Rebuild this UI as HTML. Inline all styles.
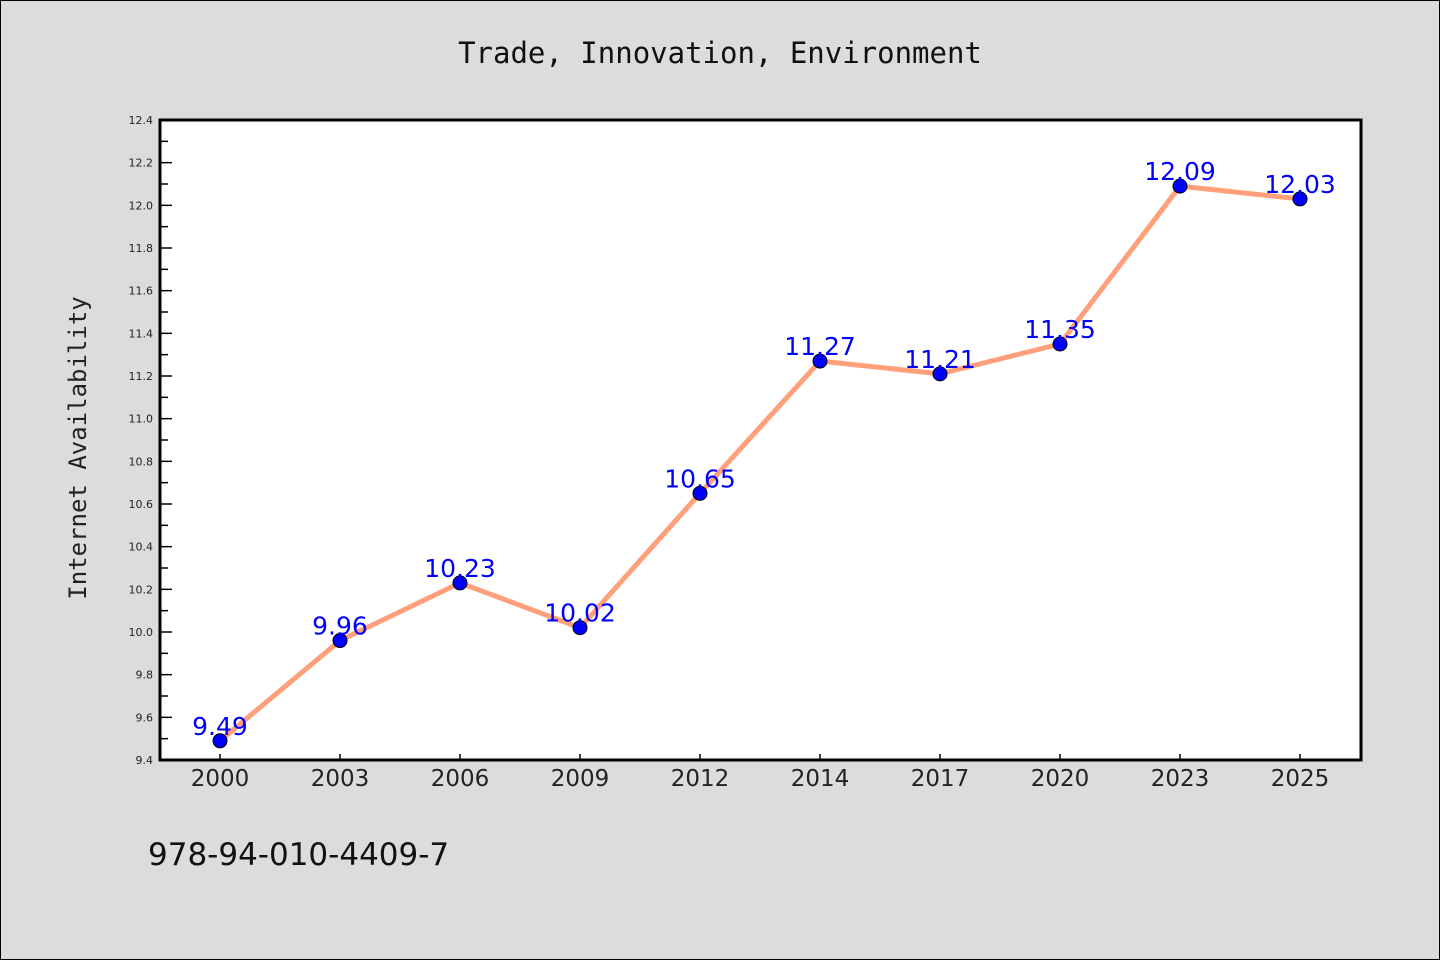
<!DOCTYPE html>
<html><head><meta charset="utf-8"><style>
html,body{margin:0;padding:0;background:#dcdcdc;}
svg{display:block;font-family:"DejaVu Sans","Liberation Sans",sans-serif;}
</style></head><body>
<svg width="1440" height="960" viewBox="0 0 1440 960">
<rect x="0.5" y="0.5" width="1439" height="959" fill="#dcdcdc" stroke="#000" stroke-width="1"/>
<text x="720" y="63" text-anchor="middle" font-size="29" font-family="DejaVu Sans Mono, monospace" fill="#111">Trade, Innovation, Environment</text>
<rect x="160" y="120" width="1201" height="640" fill="#fff"/>
<g id="yticks"></g><g id="xticks"></g>
<path id="line" fill="none" stroke="#ffa07a" stroke-width="5" stroke-linejoin="round"/>
<g id="points"></g>
<rect x="160" y="120" width="1201" height="640" fill="none" stroke="#000" stroke-width="3"/>
<text x="86" y="448" transform="rotate(-90 86 448)" text-anchor="middle" font-size="24" font-family="DejaVu Sans Mono, monospace" fill="#222">Internet Availability</text>
<text x="148" y="865" font-size="31" fill="#111">978-94-010-4409-7</text>
</svg>
<script>
const categories=["2000","2003","2006","2009","2012","2014","2017","2020","2023","2025"];
const values=[9.49,9.96,10.23,10.02,10.65,11.27,11.21,11.35,12.09,12.03];
const valueLabels=["9.49","9.96","10.23","10.02","10.65","11.27","11.21","11.35","12.09","12.03"];
const yTicks=["9.4","9.6","9.8","10.0","10.2","10.4","10.6","10.8","11.0","11.2","11.4","11.6","11.8","12.0","12.2","12.4"];
const NS="http://www.w3.org/2000/svg";
const yMin=9.4,yMax=12.4,yTop=120,yBot=760;
const y=v=>yBot-(v-yMin)/(yMax-yMin)*(yBot-yTop);
const x=i=>220+i*(1300-220)/(categories.length-1);
function mk(t,a){const e=document.createElementNS(NS,t);for(const k in a)e.setAttribute(k,a[k]);return e;}
const yt=document.getElementById('yticks');
yTicks.forEach((t,i)=>{const v=parseFloat(t),yy=y(v);
 const l=mk('line',{x1:160,x2:172,y1:yy,y2:yy,stroke:'#000','stroke-width':1.5});
 
 yt.appendChild(l);
 if(i<yTicks.length-1){const ym=y(v+0.1);const m=mk('line',{x1:160,x2:168,y1:ym,y2:ym,stroke:'#000','stroke-width':1.5});
 
 yt.appendChild(m);}
 const tx=mk('text',{x:153,y:yy+4,'text-anchor':'end','font-size':11,fill:'#222'});tx.textContent=t;
 
 yt.appendChild(tx);});
const xt=document.getElementById('xticks');
categories.forEach((c,i)=>{const l=mk('line',{x1:x(i),x2:x(i),y1:760,y2:754,stroke:'#000','stroke-width':1.5});
 
 xt.appendChild(l);
 const tx=mk('text',{x:x(i),y:786,'text-anchor':'middle','font-size':23,fill:'#222'});tx.textContent=c;
 
 xt.appendChild(tx);});
document.getElementById('line').setAttribute('d',values.map((v,i)=>(i?'L':'M')+x(i)+','+y(v)).join(''));
const pg=document.getElementById('points');
values.forEach((v,i)=>{const c=mk('circle',{cx:x(i),cy:y(v),r:7,fill:'#0000ff',stroke:'#000','stroke-width':1});
 
 pg.appendChild(c);
 const t=mk('text',{x:x(i),y:y(v)-6,'text-anchor':'middle','font-size':25,fill:'#0000ff'});t.textContent=valueLabels[i];
 
 pg.appendChild(t);});
</script>
</body></html>
